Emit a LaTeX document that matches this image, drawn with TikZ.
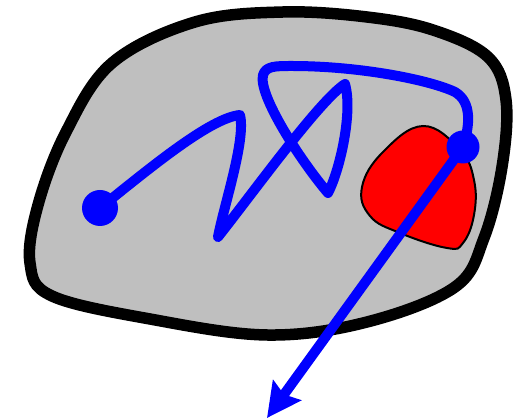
\documentclass[tikz,border=0pt]{standalone}
\usetikzlibrary{arrows.meta}
\definecolor{blobgray}{RGB}{191,191,191}
\tikzset{
  outerblob/.style={fill=blobgray,draw=black,line width=11.5pt,line join=round},
  innerblob/.style={fill=red,draw=black,line width=2pt},
  walk/.style={draw=blue,line width=10pt,line join=round,line cap=round},
  dotmark/.style={fill=blue},
  jump/.style={draw=blue,line width=10pt,-{Stealth[length=34pt,width=34pt,inset=5pt]}}
}
\begin{document}
\begin{tikzpicture}[x=1pt,y=-1pt]
\useasboundingbox (0,0) rectangle (515,419);
% outer gray region
\draw[outerblob] plot[smooth cycle,tension=0.6] coordinates {
 (283,12) (367,17) (433,30) (488,57) (506,100) (502,167) (484,238) (455,287)
 (367,322) (267,335) (150,319) (52,296) (30,263) (38,205) (66,132) (112,63) (195,22)};
% red region
\draw[innerblob] plot[smooth cycle,tension=0.7] coordinates {
 (423,126) (460,150) (474,180) (474,215) (463,243) (447,248) (400,233) (370,216)
 (362,187) (383,152)};
% named points
\coordinate (start) at (100,208);
\coordinate (stop) at (463,147);
\coordinate (tip) at (267,418);
% random walk
\draw[walk] (start) .. controls (150,168) and (210,118) .. (240,115)
  .. controls (246,140) and (224,205) .. (218,237)
  .. controls (255,190) and (320,100) .. (345,84)
  .. controls (353,112) and (340,170) .. (328,193)
  .. controls (300,160) and (258,95) .. (263,75)
  .. controls (266,66) and (275,66) .. (292,66)
  .. controls (360,66) and (430,80) .. (455,92)
  .. controls (472,102) and (470,125) .. (stop);
% escape arrow
\draw[jump] (stop) -- (tip);
% dots
\fill[dotmark] (start) circle (18);
\fill[dotmark] (stop) circle (16.5);
\end{tikzpicture}
\end{document}
